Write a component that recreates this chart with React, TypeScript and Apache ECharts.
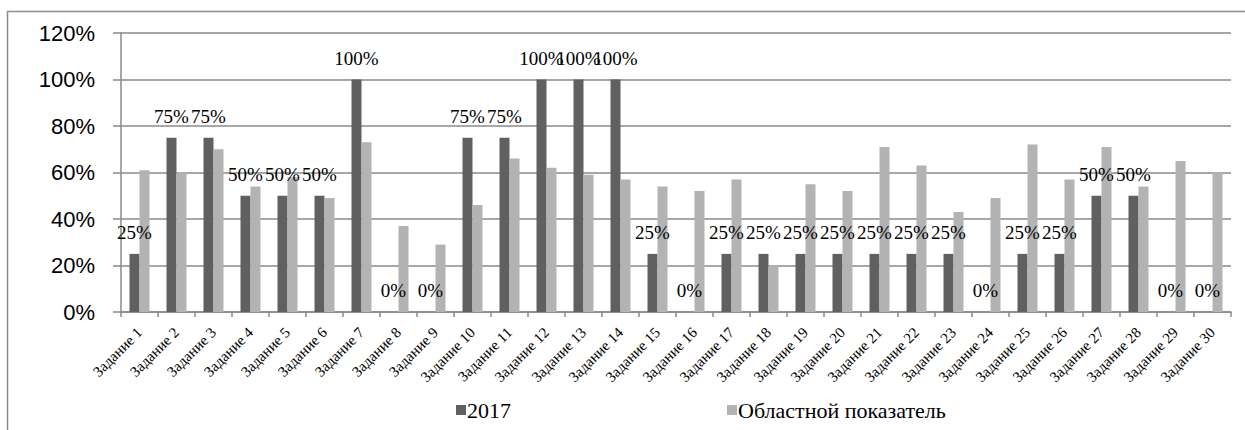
import React, { useEffect, useRef } from "react";
import * as echarts from "echarts";

const categories: string[] = Array.from({ length: 30 }, (_, i) => `Задание ${i + 1}`);

const series2017: number[] = [
  25, 75, 75, 50, 50, 50, 100, 0, 0, 75, 75, 100, 100, 100, 25,
  0, 25, 25, 25, 25, 25, 25, 25, 0, 25, 25, 50, 50, 0, 0,
];

const seriesRegion: number[] = [
  61, 60, 70, 54, 58, 49, 73, 37, 29, 46, 66, 62, 59, 57, 54,
  52, 57, 20, 55, 52, 71, 63, 43, 49, 72, 57, 71, 54, 65, 60,
];

const seriesNames: string[] = ["2017", "Областной показатель"];

const yTicks = { min: 0, max: 120, interval: 20 };

export default function App() {
  const ref = useRef<HTMLDivElement>(null);

  useEffect(() => {
    if (!ref.current) return;
    const chart = echarts.init(ref.current, undefined, { renderer: "svg" });
    const serif = "'Liberation Serif', 'Times New Roman', serif";
    const sans = "'Liberation Sans', Arial, sans-serif";
    const gridColor = "#8a8a8a";
    const legendText = { fontFamily: serif, fontSize: 22, color: "#000", padding: [0, 0, 0, -4] };
    chart.setOption({
      animation: false,
      backgroundColor: "#ffffff",
      graphic: [
        {
          type: "rect",
          shape: { x: 7.5, y: 11.5, width: 1300, height: 600 },
          style: { fill: "none", stroke: "#8c8c8c", lineWidth: 1.5 },
          silent: true,
        },
      ],
      grid: { left: 121, right: 14, top: 33, bottom: 118, containLabel: false },
      legend: [
        {
          data: [seriesNames[0]],
          left: 456,
          top: 399,
          padding: 0,
          itemWidth: 10,
          itemHeight: 10,
          icon: "rect",
          textStyle: legendText,
        },
        {
          data: [seriesNames[1]],
          left: 727,
          top: 399,
          padding: 0,
          itemWidth: 10,
          itemHeight: 10,
          icon: "rect",
          textStyle: legendText,
        },
      ],
      xAxis: {
        type: "category",
        data: categories,
        axisLine: { show: true, lineStyle: { color: gridColor, width: 1.5 } },
        axisTick: { show: true, length: 5, lineStyle: { color: gridColor, width: 1.5 } },
        axisLabel: {
          rotate: 45,
          interval: 0,
          margin: 18,
          fontFamily: serif,
          fontSize: 15,
          color: "#000",
        },
      },
      yAxis: {
        type: "value",
        min: yTicks.min,
        max: yTicks.max,
        interval: yTicks.interval,
        axisLine: { show: true, lineStyle: { color: gridColor, width: 1.5 } },
        axisTick: { show: true, length: 8, lineStyle: { color: gridColor, width: 1.5 } },
        splitLine: { show: true, lineStyle: { color: gridColor, width: 1.5 } },
        axisLabel: {
          formatter: "{value}%",
          margin: 26,
          fontFamily: sans,
          fontSize: 22,
          color: "#000",
        },
      },
      series: [
        {
          name: seriesNames[0],
          type: "bar",
          data: series2017,
          barWidth: 10,
          barGap: "0%",
          itemStyle: { color: "#606060" },
          label: {
            show: true,
            position: "top",
            distance: 12,
            formatter: "{c}%",
            fontFamily: serif,
            fontSize: 19,
            color: "#000",
          },
        },
        {
          name: seriesNames[1],
          type: "bar",
          data: seriesRegion,
          barWidth: 10,
          barGap: "0%",
          itemStyle: { color: "#b3b3b3" },
        },
      ],
    });
    return () => chart.dispose();
  }, []);

  return (
    <div
      ref={ref}
      style={{ position: "absolute", left: 0, top: 0, width: 1245, height: 430, background: "#fff" }}
    />
  );
}
